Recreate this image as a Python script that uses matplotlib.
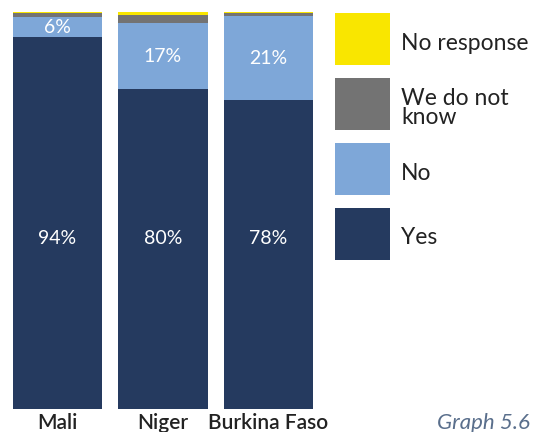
import matplotlib.pyplot as plt
from matplotlib.patches import Rectangle

plt.rcParams['font.family'] = ['Lato', 'DejaVu Sans']

countries = ['Mali', 'Niger', 'Burkina Faso']
yes = [93.7, 80.5, 77.8]
no = [5.0, 16.7, 21.1]
dont_know = [1.0, 2.0, 0.8]
no_response = [0.3, 0.8, 0.3]
yes_labels = ['94%', '80%', '78%']
no_labels = ['6%', '17%', '21%']

series = ['Yes', 'No', 'We do not\nknow', 'No response']
colors = ['#253a5f', '#7ea7d8', '#737373', '#f9e600']

fig = plt.figure(figsize=(5.42, 4.32), dpi=100)
ax = fig.add_axes([13 / 542, 23 / 432, 300 / 542, 397 / 432])

x = range(len(countries))
width = 0.845
bottom = [0] * len(countries)
for vals, col in zip([yes, no, dont_know, no_response], colors):
    ax.bar(x, vals, width, bottom=bottom, color=col, linewidth=0)
    bottom = [b + v for b, v in zip(bottom, vals)]

for i in x:
    ax.text(i, 43, yes_labels[i], ha='center', va='center', color='white', fontsize=14)
    ax.text(i, yes[i] + no[i] / 2, no_labels[i], ha='center', va='center', color='white',
            fontsize=14)
    fig.text((13 + 105.45 * (i + width / 2)) / 542, 1 - 423 / 432, countries[i],
             ha='center', va='center', color='#222222', fontsize=15, fontweight='semibold')

ax.set_xlim(-width / 2, 2 + width / 2)
ax.set_ylim(0, 100)
ax.axis('off')

# legend drawn by hand, top to bottom
leg_items = list(zip(series, colors))[::-1]
for k, (lab, col) in enumerate(leg_items):
    top = 13 + k * 65
    fig.add_artist(Rectangle((335 / 542, 1 - (top + 52) / 432), 55 / 542, 52 / 432,
                             transform=fig.transFigure, color=col, linewidth=0))
    fig.text(401 / 542, 1 - (top + 30) / 432, lab, ha='left', va='center',
             fontsize=16.5, color='#222222', linespacing=0.85)

fig.text(530 / 542, 1 - 423 / 432, 'Graph 5.6', ha='right', va='center',
         fontsize=16, style='italic', color='#5a6f8c')

fig.savefig('out.png', dpi=100)
